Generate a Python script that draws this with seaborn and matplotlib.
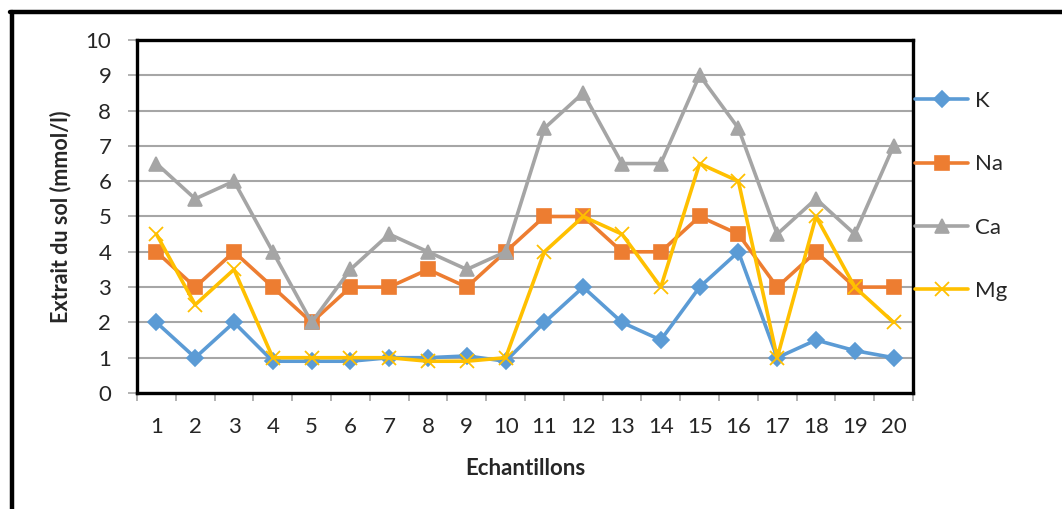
import matplotlib
matplotlib.use("Agg")
import matplotlib.pyplot as plt
from matplotlib.lines import Line2D
import numpy as np
import pandas as pd
import seaborn as sns

# Sample numbers and measured soil extract concentrations (mmol/l)
echantillons = list(range(1, 21))
k_vals = [2, 1, 2, 0.9, 0.9, 0.9, 1.0, 1.0, 1.05, 0.9, 2, 3, 2, 1.5, 3, 4, 1.0, 1.5, 1.2, 1.0]
na_vals = [4, 3, 4, 3, 2, 3, 3, 3.5, 3, 4, 5, 5, 4, 4, 5, 4.5, 3, 4, 3, 3]
ca_vals = [6.5, 5.5, 6, 4, 2, 3.5, 4.5, 4, 3.5, 4, 7.5, 8.5, 6.5, 6.5, 9, 7.5, 4.5, 5.5, 4.5, 7]
mg_vals = [4.5, 2.5, 3.5, 1, 1, 1, 1, 0.9, 0.9, 1, 4, 5, 4.5, 3, 6.5, 6, 1, 5, 3, 2]
ions = ["K", "Na", "Ca", "Mg"]
y_ticks = list(range(0, 11))

colors = {"K": "#5B9BD5", "Na": "#ED7D31", "Ca": "#A5A5A5", "Mg": "#FFC000"}
markers = {"K": "D", "Na": "s", "Ca": "^", "Mg": "x"}
msizes = {"K": 8, "Na": 10, "Ca": 10, "Mg": 10}

df = pd.DataFrame({
    "Echantillon": echantillons * 4,
    "ion": sum([[n] * 20 for n in ions], []),
    "valeur": k_vals + na_vals + ca_vals + mg_vals,
})

sns.set_style("white")
plt.rcParams["font.family"] = ["Lato", "DejaVu Sans"]

fig = plt.figure(figsize=(10.62, 5.09), dpi=100)
ax = fig.add_axes([137 / 1062, 1 - 393 / 509, 776 / 1062, 353 / 509])

for i, ion in enumerate(ions):
    sub = df[df["ion"] == ion]
    sns.lineplot(data=sub, x="Echantillon", y="valeur", ax=ax, color=colors[ion],
                 marker=markers[ion], markersize=msizes[ion], linewidth=2.6,
                 markeredgecolor=colors[ion], markeredgewidth=1.2 if ion != "Mg" else 1.3,
                 label=ion, zorder=3 + i)

ax.set_xlim(0.5, 20.5)
ax.set_ylim(0, 10)
ax.set_yticks(y_ticks)
ax.set_xticks(echantillons)
ax.set_xticks(np.arange(0.5, 21, 1), minor=True)
ax.grid(axis="y", color="#A6A6A6", linewidth=1.5, zorder=0)
ax.set_axisbelow(True)

ax.tick_params(axis="y", which="major", length=6.5, width=1.2, color="#A6A6A6",
               labelsize=16, pad=12, left=True, direction="out")
ax.tick_params(axis="x", which="major", length=0, labelsize=16, pad=17, bottom=True)
ax.tick_params(axis="x", which="minor", length=5.5, width=1.2, color="#A6A6A6",
               bottom=True, direction="out")

for s in ax.spines.values():
    s.set_color("black")
    s.set_linewidth(2.4)
    s.set_visible(True)

ax.set_xlabel("Echantillons", fontsize=16, fontweight="bold")
ax.set_ylabel("Extrait du sol (mmol/l)", fontsize=15.5, fontweight="bold")
ax.xaxis.set_label_coords(0.5, -0.183)
ax.yaxis.set_label_coords(-0.084, 0.5)

leg = ax.legend(loc="center left", bbox_to_anchor=(915 / 1062, 1 - 196 / 509),
                bbox_transform=fig.transFigure, frameon=False, fontsize=16,
                handlelength=2.4, handletextpad=0.3, labelspacing=1.95,
                borderpad=0, borderaxespad=0)

# outer frame on the left and top edges
fig.add_artist(Line2D([12 / 1062, 12 / 1062], [0, 1 - 12 / 509], transform=fig.transFigure,
                      color="black", linewidth=3.2))
fig.add_artist(Line2D([10 / 1062, 1], [1 - 12 / 509, 1 - 12 / 509], transform=fig.transFigure,
                      color="black", linewidth=3.2))

fig.savefig("out.png", dpi=100)
